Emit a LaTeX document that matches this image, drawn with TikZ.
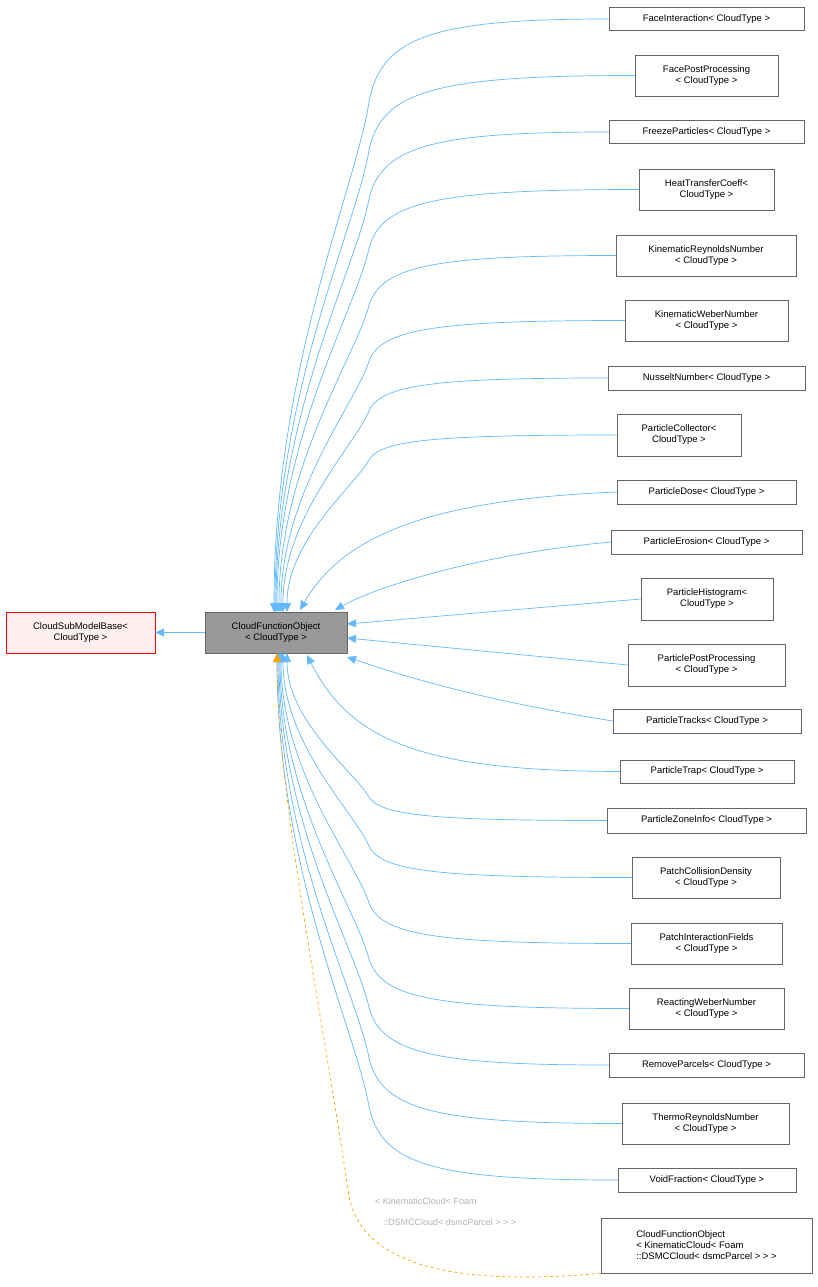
\documentclass[tikz,border=0pt]{standalone}
\usepackage{fontspec}
\setmainfont{Liberation Sans}
\usetikzlibrary{arrows.meta}
\definecolor{eb}{HTML}{63B8FF}
\definecolor{eo}{HTML}{FFA500}
\begin{document}
\begin{tikzpicture}[x=1pt,y=-1pt,
 box/.style={draw=black!60,fill=white,inner sep=2pt,align=center,font=\fontsize{9.5}{11}\selectfont,rectangle},
 arr/.style={draw=eb,line width=0.7pt,-{Triangle[length=9pt,width=8pt]}},
 darr/.style={draw=eo,line width=0.7pt,dashed,-{Triangle[length=9pt,width=8pt]}}]
\useasboundingbox (0,0) rectangle (818,1287);
\node[box,draw=red,fill=red!6,minimum width=149pt,minimum height=41pt] (base) at (80.5,632.5) {CloudSubModelBase\textless\\CloudType \textgreater};
\node[box,fill=black!40,minimum width=142pt,minimum height=41pt] (cfo) at (276,632.5) {CloudFunctionObject\\\textless\ CloudType \textgreater};
\draw[arr] (cfo.west) -- (base.east);
\foreach \n/\cx/\cy/\w/\h/\t in {
 a/706.5/19/195/23/{FaceInteraction\textless\ CloudType \textgreater},
 b/706.5/75.5/143/41/{FacePostProcessing\\\textless\ CloudType \textgreater},
 c/706.5/132/195/23/{FreezeParticles\textless\ CloudType \textgreater},
 d/706.5/189.5/135/41/{HeatTransferCoeff\textless\\CloudType \textgreater},
 e/706/255.5/180/41/{KinematicReynoldsNumber\\\textless\ CloudType \textgreater},
 f/706.5/320.5/163/41/{KinematicWeberNumber\\\textless\ CloudType \textgreater},
 g/706.5/378/197/24/{NusseltNumber\textless\ CloudType \textgreater},
 h/679/435/124/42/{ParticleCollector\textless\\CloudType \textgreater},
 i/706.5/492/179/24/{ParticleDose\textless\ CloudType \textgreater},
 j/706.5/542/191/24/{ParticleErosion\textless\ CloudType \textgreater},
 k/707/599/132/42/{ParticleHistogram\textless\\CloudType \textgreater},
 l/706.5/665/157/42/{ParticlePostProcessing\\\textless\ CloudType \textgreater},
 m/707/721/188/24/{ParticleTracks\textless\ CloudType \textgreater},
 n/707/771.5/174/23/{ParticleTrap\textless\ CloudType \textgreater},
 o/706.5/820.5/199/25/{ParticleZoneInfo\textless\ CloudType \textgreater},
 p/706/877.5/148/41/{PatchCollisionDensity\\\textless\ CloudType \textgreater},
 q/706.5/943.5/151/41/{PatchInteractionFields\\\textless\ CloudType \textgreater},
 r/706.5/1008.5/155/41/{ReactingWeberNumber\\\textless\ CloudType \textgreater},
 s/706.5/1065/195/24/{RemoveParcels\textless\ CloudType \textgreater},
 t/705.5/1123.5/167/41/{ThermoReynoldsNumber\\\textless\ CloudType \textgreater},
 u/707/1180/178/24/{VoidFraction\textless\ CloudType \textgreater}}
 {\node[box,minimum width=\w pt,minimum height=\h pt] (\n) at (\cx,\cy) {\t};}
\node[box,align=left,minimum width=211pt,minimum height=55pt] (v) at (706.5,1245.5) {CloudFunctionObject\\\textless\ KinematicCloud\textless\ Foam\\::DSMCCloud\textless\ dsmcParcel \textgreater\ \textgreater\ \textgreater};
% upper edges
\foreach \n/\y/\ex in {a/19/274,b/75.5/275,c/132/276,d/189.5/277,e/255.5/279,f/320.5/281,g/378/283,h/435/287}
 {\pgfmathsetmacro\d{612-\y}
  \pgfmathsetmacro\pa{\y+0.15*\d}
  \pgfmathsetmacro\pb{\y+0.03*\d}
  \pgfmathsetmacro\pc{\y+0.3*\d}
  \pgfmathsetmacro\pd{\y+0.6*\d}
  \draw[arr] (\n.west) .. controls (430,\y) and (378,\pb) .. (368,\pa) .. controls (352,\pc) and (\ex,\pd) .. (\ex,612);}
\draw[arr] (i.west) .. controls (420,500) and (340,540) .. (300,610);
\draw[arr] (j.west) .. controls (470,555) and (370,590) .. (335,610);
\draw[arr] (k.west) -- (347,624);
\draw[arr] (l.west) -- (347,638);
\draw[arr] (m.west) .. controls (480,700) and (400,675) .. (347,657);
\draw[arr] (n.west) .. controls (420,771) and (350,740) .. (307,655);
% lower edges
\foreach \n/\y/\ex in {o/820.5/287,p/877.5/283,q/943.5/281,r/1008.5/280,s/1065/279,t/1123.5/278,u/1180/277}
 {\pgfmathsetmacro\d{\y-653}
  \pgfmathsetmacro\pa{\y-0.15*\d}
  \pgfmathsetmacro\pb{\y-0.03*\d}
  \pgfmathsetmacro\pc{\y-0.3*\d}
  \pgfmathsetmacro\pd{\y-0.6*\d}
  \draw[arr] (\n.west) .. controls (430,\y) and (378,\pb) .. (368,\pa) .. controls (352,\pc) and (\ex,\pd) .. (\ex,653);}
\draw[darr] (v.south west) .. controls (420,1290) and (355,1250) .. (348,1190) .. controls (320,1000) and (278,800) .. (277,653);
\node[font=\fontsize{9}{10}\selectfont,text=black!30,anchor=west,inner sep=0] (l1) at (375,1201) {\textless\ KinematicCloud\textless\ Foam};
\node[font=\fontsize{9}{10}\selectfont,text=black!30,anchor=west,inner sep=0] (l2) at (383,1222) {::DSMCCloud\textless\ dsmcParcel \textgreater\ \textgreater\ \textgreater};
\end{tikzpicture}
\end{document}
